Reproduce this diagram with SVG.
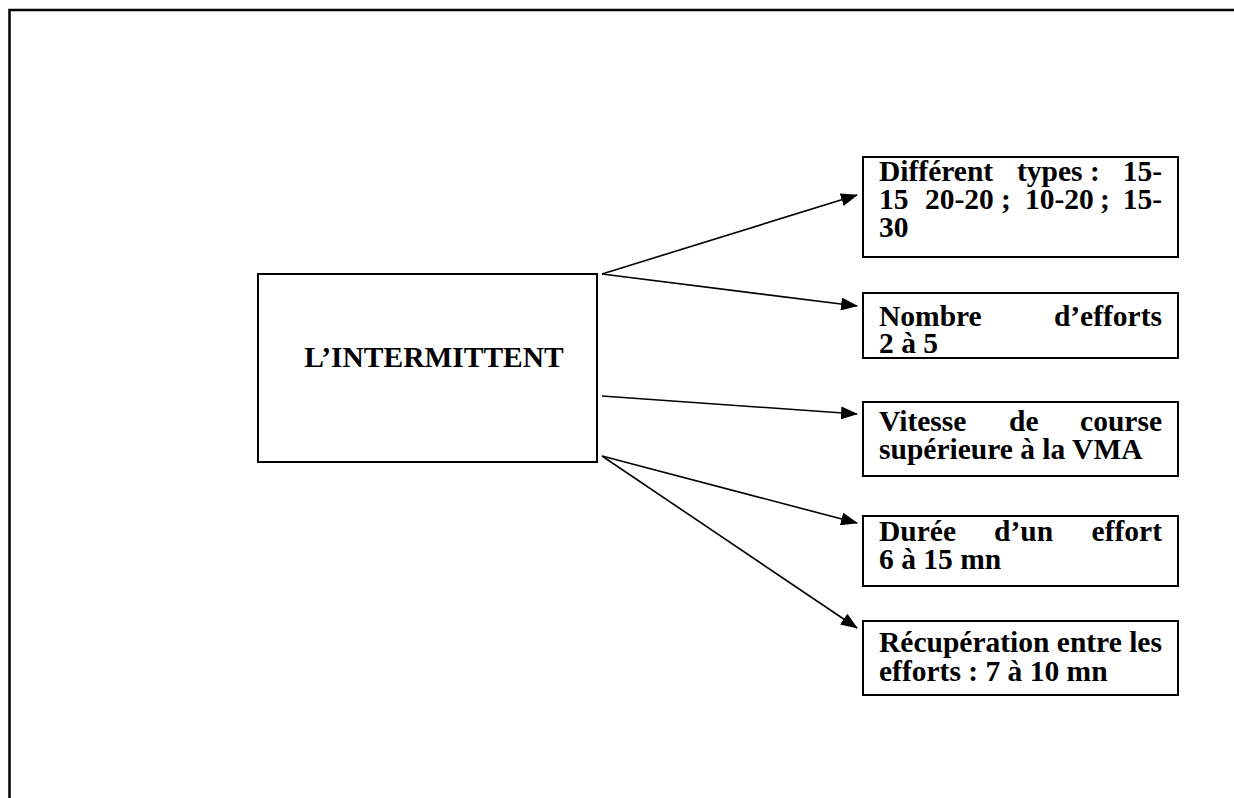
<svg xmlns="http://www.w3.org/2000/svg" width="1234" height="798" viewBox="0 0 1234 798">
  <style>
    .box { fill: #fff; stroke: #000; stroke-width: 2; }
    .t { font-family: "Liberation Serif", "Times New Roman", serif; font-weight: bold; font-size: 29.5px; fill: #000; }
    .e { text-anchor: end; }
    .c { stroke: #000; stroke-width: 1.6; fill: none; marker-end: url(#ah); }
  </style>
  <defs>
    <marker id="ah" markerUnits="userSpaceOnUse" viewBox="0 0 17 13" refX="16" refY="6.5" markerWidth="17" markerHeight="13" orient="auto">
      <path d="M0,0 L17,6.5 L0,13 Z" fill="#000"/>
    </marker>
  </defs>
  <rect width="1234" height="798" fill="#fff"/>
  <path d="M9.5,798 V10 H1234" stroke="#000" stroke-width="2.5" fill="none"/>

  <g id="connectors">
    <line class="c" x1="602" y1="274" x2="857" y2="195"/>
    <line class="c" x1="602" y1="274" x2="857" y2="306"/>
    <line class="c" x1="602" y1="396" x2="857" y2="414"/>
    <line class="c" x1="602" y1="456" x2="857" y2="523"/>
    <line class="c" x1="602" y1="456" x2="857" y2="628"/>
  </g>

  <g id="main">
    <rect class="box" x="258" y="274" width="339" height="188"/>
    <text class="t" x="434" y="367" text-anchor="middle">L’INTERMITTENT</text>
  </g>

  <g id="types">
    <rect class="box" x="863" y="157" width="315" height="100"/>
    <text class="t" x="879" y="181">Différent</text>
    <text class="t" x="1017" y="181">types :</text>
    <text class="t e" x="1162" y="181">15-</text>
    <text class="t" x="879" y="209">15</text>
    <text class="t" x="925" y="209">20-20</text>
    <text class="t" x="1001" y="209">;</text>
    <text class="t" x="1025" y="209">10-20</text>
    <text class="t" x="1100" y="209">;</text>
    <text class="t e" x="1162" y="209">15-</text>
    <text class="t" x="879" y="237">30</text>
  </g>

  <g id="nombre">
    <rect class="box" x="863" y="293" width="315" height="65"/>
    <text class="t" x="879" y="326">Nombre</text>
    <text class="t e" x="1162" y="326">d’efforts</text>
    <text class="t" x="879" y="353">2 à 5</text>
  </g>

  <g id="vitesse">
    <rect class="box" x="863" y="402" width="315" height="74"/>
    <text class="t" x="879" y="431">Vitesse</text>
    <text class="t" x="1009" y="431">de</text>
    <text class="t e" x="1162" y="431">course</text>
    <text class="t" x="879" y="459">supérieure à la VMA</text>
  </g>

  <g id="duree">
    <rect class="box" x="863" y="516" width="315" height="70"/>
    <text class="t" x="879" y="541">Durée</text>
    <text class="t" x="994" y="541">d’un</text>
    <text class="t e" x="1162" y="541">effort</text>
    <text class="t" x="879" y="569">6 à 15 mn</text>
  </g>

  <g id="recuperation">
    <rect class="box" x="863" y="621" width="315" height="74"/>
    <text class="t" x="879" y="652">Récupération entre les</text>
    <text class="t" x="879" y="681">efforts : 7 à 10 mn</text>
  </g>
</svg>
